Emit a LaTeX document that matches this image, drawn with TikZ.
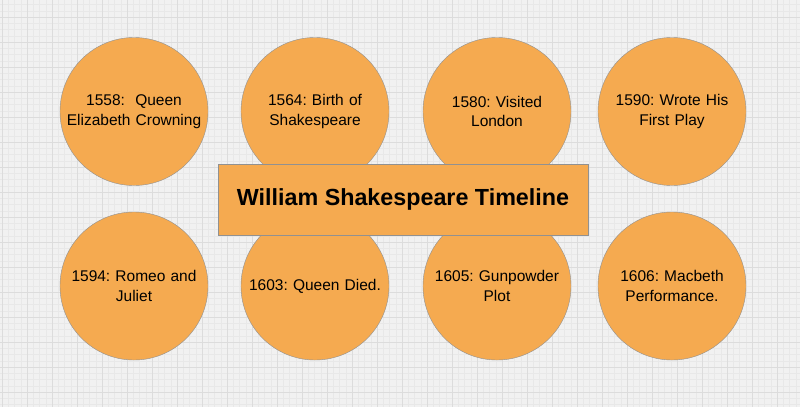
\documentclass[tikz,border=0pt]{standalone}
\usepackage{fontspec}
\setmainfont{Liberation Sans}
\usetikzlibrary{positioning}
\definecolor{eventorange}{RGB}{245,170,80}
\definecolor{eventline}{RGB}{145,145,145}
\definecolor{paper}{RGB}{241,241,241}
\definecolor{gridminor}{RGB}{232,232,232}
\definecolor{gridmajor}{RGB}{220,220,220}
\tikzset{
  eventcircle/.style={
    circle,
    draw=eventline, thin,
    fill=eventorange,
    minimum size=148pt,
    inner sep=0pt,
    text width=144pt,
    align=center,
    font=\fontsize{15.5pt}{19.5pt}\selectfont\frenchspacing},
  titlebox/.style={
    rectangle,
    draw=eventline, thin,
    fill=eventorange,
    minimum width=370pt,
    minimum height=71pt,
    font=\fontsize{23.3pt}{28pt}\selectfont\bfseries},
  gridline/.style={draw=gridminor, line width=0.4pt},
  gridbold/.style={draw=gridmajor, line width=0.6pt},
}

\begin{document}
\begin{tikzpicture}[x=1pt,y=-1pt]
  % paper with grid
  \fill[paper] (0,0) rectangle (800,407);
  \useasboundingbox (0,0) rectangle (800,407);
  \foreach \gx in {0,...,128} {
    \draw[gridline] ({2+6.25*\gx-6.25},0) -- ({2+6.25*\gx-6.25},407);
  }
  \foreach \gy in {0,...,66} {
    \draw[gridline] (0,{-8+6.25*\gy}) -- (800,{-8+6.25*\gy});
  }
  \foreach \gx in {0,...,32} {
    \draw[gridbold] ({2+25*\gx},0) -- ({2+25*\gx},407);
  }
  \foreach \gy in {0,...,17} {
    \draw[gridbold] (0,{-8+25*\gy}) -- (800,{-8+25*\gy});
  }
  % top row
  \node[eventcircle] (queen-crowning) at (134,111.5) {1558:~ Queen\\Elizabeth Crowning};
  \node[eventcircle] (birth) at (315,111.5) {1564: Birth of\\Shakespeare};
  \node[eventcircle] (london) at (497,111.5) {1580: Visited\\London};
  \node[eventcircle] (first-play) at (672,111.5) {1590: Wrote His\\First Play};
  % bottom row
  \node[eventcircle] (romeo) at (134,286) {1594: Romeo and\\Juliet};
  \node[eventcircle] (queen-died) at (315,286) {1603: Queen Died.};
  \node[eventcircle] (gunpowder) at (497,286) {1605: Gunpowder\\Plot};
  \node[eventcircle] (macbeth) at (672,286) {1606: Macbeth\\Performance.};
  % title on top
  \node[titlebox] (timeline) at (403,199.5) {William Shakespeare Timeline};
\end{tikzpicture}
\end{document}
